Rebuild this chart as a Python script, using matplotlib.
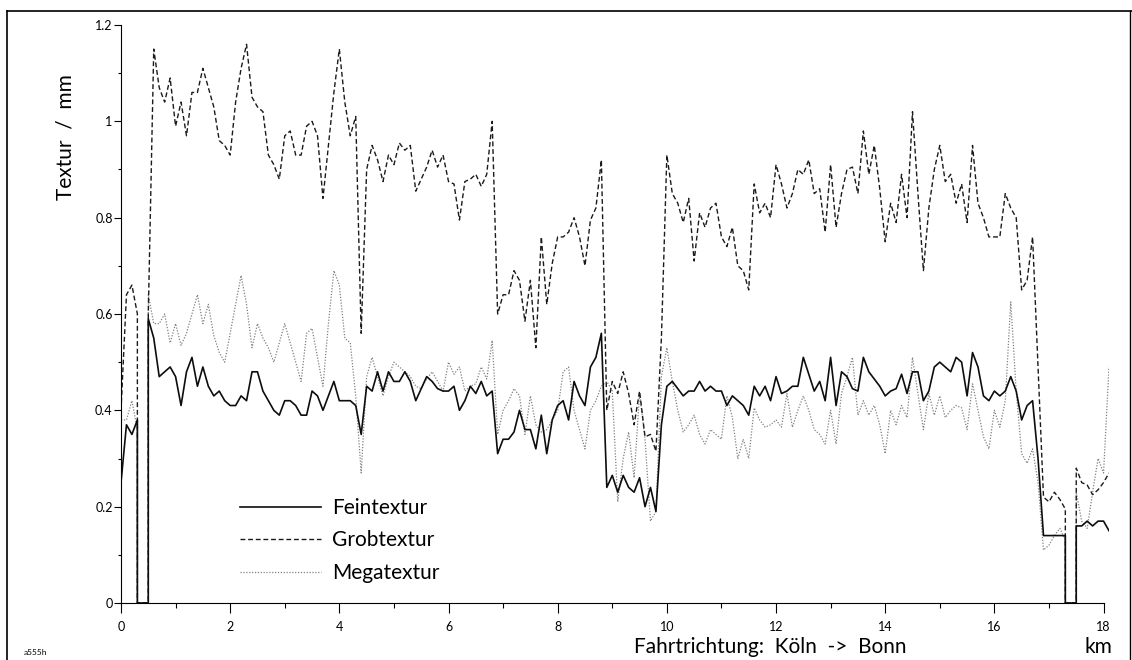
import numpy as np
import matplotlib
matplotlib.use("Agg")
import matplotlib.pyplot as plt
from matplotlib.lines import Line2D

nan = np.nan

# Messpunkte alle 100 m (0.0 ... 18.1 km), nan = Messlücke
km = np.round(np.arange(0, 18.15, 0.1), 1)

fein = [
    0.25, 0.37, 0.35, 0.38, nan, 0.59, 0.55, 0.47, 0.48, 0.49,
    0.47, 0.41, 0.48, 0.51, 0.45, 0.49, 0.45, 0.43, 0.44, 0.42,
    0.41, 0.41, 0.43, 0.42, 0.48, 0.48, 0.44, 0.42, 0.40, 0.39,
    0.42, 0.42, 0.41, 0.39, 0.39, 0.44, 0.43, 0.40, 0.43, 0.46,
    0.42, 0.42, 0.42, 0.41, 0.35, 0.45, 0.44, 0.48, 0.44, 0.48,
    0.46, 0.46, 0.48, 0.46, 0.42, 0.445, 0.47, 0.46, 0.445, 0.44,
    0.44, 0.45, 0.40, 0.42, 0.45, 0.435, 0.46, 0.43, 0.44, 0.31,
    0.34, 0.34, 0.355, 0.40, 0.36, 0.36, 0.32, 0.39, 0.31, 0.38,
    0.41, 0.42, 0.38, 0.46, 0.43, 0.41, 0.49, 0.51, 0.56, 0.24,
    0.265, 0.23, 0.265, 0.24, 0.23, 0.26, 0.20, 0.24, 0.19, 0.37,
    0.45, 0.46, 0.445, 0.43, 0.44, 0.44, 0.46, 0.44, 0.45, 0.44,
    0.44, 0.41, 0.43, 0.42, 0.41, 0.39, 0.45, 0.43, 0.45, 0.42,
    0.47, 0.435, 0.44, 0.45, 0.45, 0.51, 0.475, 0.44, 0.46, 0.42,
    0.51, 0.41, 0.48, 0.47, 0.445, 0.44, 0.51, 0.48, 0.465, 0.45,
    0.43, 0.44, 0.445, 0.475, 0.435, 0.48, 0.48, 0.42, 0.44, 0.49,
    0.50, 0.49, 0.48, 0.51, 0.50, 0.43, 0.52, 0.49, 0.43, 0.42,
    0.44, 0.43, 0.44, 0.47, 0.44, 0.38, 0.41, 0.42, 0.30, 0.14,
    0.14, 0.14, 0.14, 0.14, nan, 0.16, 0.16, 0.17, 0.16, 0.17,
    0.17, 0.15,
]

grob = [
    0.40, 0.64, 0.66, 0.60, nan, 0.60, 1.15, 1.07, 1.04, 1.09,
    0.99, 1.04, 0.97, 1.06, 1.06, 1.11, 1.07, 1.03, 0.96, 0.95,
    0.93, 1.04, 1.11, 1.16, 1.05, 1.03, 1.02, 0.93, 0.91, 0.88,
    0.97, 0.98, 0.93, 0.93, 0.99, 1.00, 0.97, 0.84, 0.95, 1.06,
    1.15, 1.04, 0.97, 1.01, 0.56, 0.90, 0.95, 0.92, 0.875, 0.93,
    0.91, 0.955, 0.94, 0.95, 0.855, 0.88, 0.905, 0.94, 0.905, 0.93,
    0.875, 0.87, 0.795, 0.875, 0.88, 0.89, 0.865, 0.89, 1.00, 0.60,
    0.64, 0.64, 0.69, 0.67, 0.585, 0.67, 0.53, 0.76, 0.62, 0.705,
    0.76, 0.76, 0.77, 0.80, 0.76, 0.70, 0.795, 0.82, 0.92, 0.40,
    0.46, 0.435, 0.48, 0.435, 0.37, 0.44, 0.345, 0.35, 0.315, 0.55,
    0.93, 0.85, 0.83, 0.79, 0.84, 0.71, 0.81, 0.78, 0.82, 0.83,
    0.76, 0.74, 0.78, 0.70, 0.69, 0.65, 0.87, 0.81, 0.83, 0.80,
    0.91, 0.87, 0.82, 0.85, 0.90, 0.89, 0.92, 0.85, 0.86, 0.77,
    0.91, 0.78, 0.85, 0.90, 0.905, 0.85, 0.98, 0.89, 0.95, 0.86,
    0.75, 0.83, 0.79, 0.89, 0.80, 1.02, 0.85, 0.69, 0.82, 0.90,
    0.95, 0.875, 0.89, 0.83, 0.87, 0.79, 0.95, 0.83, 0.80, 0.76,
    0.76, 0.76, 0.85, 0.82, 0.80, 0.65, 0.67, 0.76, 0.49, 0.22,
    0.21, 0.23, 0.215, 0.195, nan, 0.28, 0.25, 0.245, 0.225, 0.235,
    0.25, 0.27,
]

mega = [
    0.38, 0.38, 0.42, 0.36, nan, 0.64, 0.58, 0.58, 0.60, 0.54,
    0.58, 0.535, 0.56, 0.60, 0.64, 0.58, 0.62, 0.555, 0.52, 0.50,
    0.56, 0.62, 0.68, 0.62, 0.53, 0.58, 0.55, 0.53, 0.50, 0.54,
    0.58, 0.54, 0.50, 0.46, 0.56, 0.57, 0.51, 0.45, 0.58, 0.69,
    0.66, 0.55, 0.54, 0.43, 0.27, 0.47, 0.51, 0.47, 0.43, 0.47,
    0.50, 0.49, 0.48, 0.47, 0.45, 0.445, 0.465, 0.48, 0.46, 0.44,
    0.50, 0.475, 0.49, 0.44, 0.45, 0.455, 0.49, 0.465, 0.545, 0.35,
    0.40, 0.42, 0.445, 0.43, 0.35, 0.43, 0.37, 0.355, 0.36, 0.38,
    0.40, 0.48, 0.49, 0.40, 0.36, 0.32, 0.40, 0.42, 0.45, 0.46,
    0.44, 0.21, 0.30, 0.355, 0.26, 0.435, 0.34, 0.17, 0.19, 0.47,
    0.53, 0.46, 0.40, 0.355, 0.37, 0.39, 0.35, 0.33, 0.36, 0.35,
    0.34, 0.43, 0.385, 0.30, 0.34, 0.30, 0.405, 0.38, 0.365, 0.37,
    0.38, 0.365, 0.435, 0.365, 0.40, 0.43, 0.40, 0.36, 0.35, 0.33,
    0.40, 0.33, 0.435, 0.47, 0.51, 0.39, 0.42, 0.39, 0.41, 0.37,
    0.31, 0.40, 0.37, 0.41, 0.385, 0.51, 0.435, 0.36, 0.435, 0.39,
    0.43, 0.385, 0.40, 0.41, 0.405, 0.36, 0.455, 0.40, 0.345, 0.32,
    0.40, 0.365, 0.42, 0.625, 0.44, 0.31, 0.29, 0.32, 0.25, 0.11,
    0.12, 0.14, 0.155, 0.13, nan, 0.23, 0.17, 0.155, 0.23, 0.30,
    0.27, 0.49,
]

y_ticks = [0, 0.2, 0.4, 0.6, 0.8, 1.0, 1.2]
y_tick_labels = ["0", "0.2", "0.4", "0.6", "0.8", "1", "1.2"]
x_ticks = [0, 2, 4, 6, 8, 10, 12, 14, 16, 18]


def mit_luecken(x, y):
    """Messlücke: Linie fällt an den Nachbarpunkten senkrecht auf 0"""
    xs, ys = [], []
    for i in range(len(y)):
        if np.isnan(y[i]):
            xs += [x[i - 1], x[i + 1]]
            ys += [0.0, 0.0]
            continue
        xs.append(x[i])
        ys.append(y[i])
    return xs, ys


plt.rcParams["font.family"] = ["Lato", "DejaVu Sans"]
W, H = 1132, 660
fig = plt.figure(figsize=(W / 100, H / 100), dpi=100)

# Achsen: x=0 bei 121 px, 18.1 km bei 1109 px; y=0 bei 603 px, 1.2 bei 25 px
ax = fig.add_axes([121 / W, 1 - 603 / H, (1109 - 121) / W, (603 - 25) / H])

x, y = mit_luecken(km, mega)
l_mega, = ax.plot(x, y, color="0.5", lw=0.9, linestyle=(0, (1, 1.3)))
x, y = mit_luecken(km, grob)
l_grob, = ax.plot(x, y, color="0.1", lw=1.0, linestyle=(0, (3.5, 2)))
x, y = mit_luecken(km, fein)
l_fein, = ax.plot(x, y, color="0.05", lw=1.2)

ax.set_xlim(0, 18.1)
ax.set_ylim(0, 1.2)
ax.set_xticks(x_ticks)
ax.set_xticks(np.arange(1, 18, 2), minor=True)
ax.set_yticks(y_ticks)
ax.set_yticklabels(y_tick_labels)
ax.set_yticks(np.arange(0.1, 1.2, 0.2), minor=True)

for side in ["top", "right"]:
    ax.spines[side].set_visible(False)
ax.spines["bottom"].set_bounds(0, 18)
for side in ["left", "bottom"]:
    ax.spines[side].set_linewidth(0.8)

ax.tick_params(axis="x", which="major", direction="out", length=7, width=0.8, labelsize=9, pad=6)
ax.tick_params(axis="x", which="minor", direction="out", length=3.5, width=0.8)
ax.tick_params(axis="y", which="major", direction="out", length=5, width=0.8, labelsize=9, pad=1)
ax.tick_params(axis="y", which="minor", direction="out", length=2.5, width=0.8)

leg = ax.legend(
    [l_fein, l_grob, l_mega],
    ["Feintextur", "Grobtextur", "Megatextur"],
    loc="upper left",
    bbox_to_anchor=(240 / W, 1 - 498 / H),
    bbox_transform=fig.transFigure,
    frameon=False,
    fontsize=15,
    handlelength=3.9,
    handletextpad=0.5,
    labelspacing=0.6,
    borderpad=0,
    borderaxespad=0,
)

fig.text(66 / W, 1 - 137 / H, "Textur  /  mm", rotation=90, ha="center", va="center", fontsize=15)
fig.text(634 / W, 1 - 653 / H, "Fahrtrichtung:  Köln  ->  Bonn", ha="left", va="baseline", fontsize=15)
fig.text(1085 / W, 1 - 653 / H, "km", ha="left", va="baseline", fontsize=15)
fig.text(24 / W, 1 - 655 / H, "a555h", ha="left", va="baseline", fontsize=6)

# Rahmen der Vorlage
fig.add_artist(Line2D([7 / W, 7 / W], [0, 1 - 11 / H], transform=fig.transFigure, color="k", lw=1.2))
fig.add_artist(Line2D([7 / W, 1], [1 - 11 / H, 1 - 11 / H], transform=fig.transFigure, color="k", lw=1.2))
fig.add_artist(Line2D([1130 / W, 1130 / W], [0, 1 - 11 / H], transform=fig.transFigure, color="k", lw=1.0))

fig.savefig("out.png", dpi=100)
